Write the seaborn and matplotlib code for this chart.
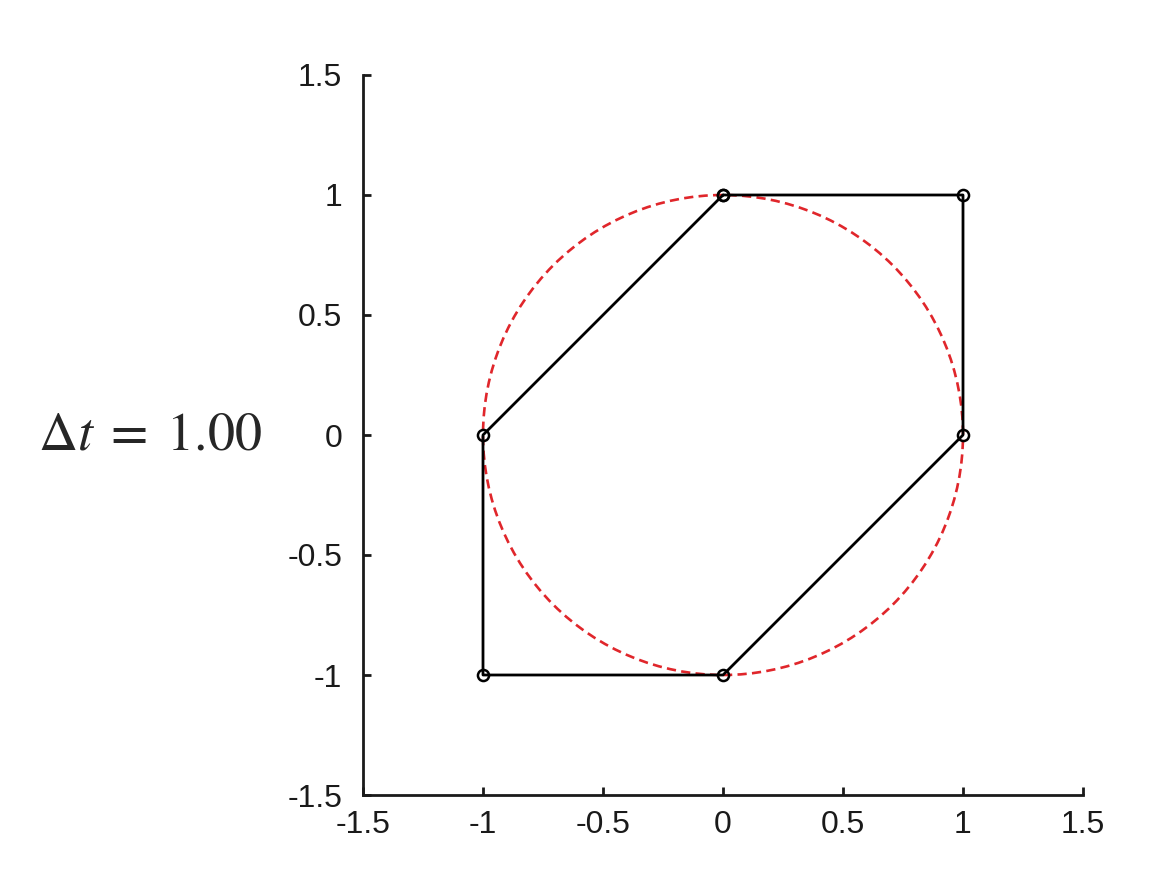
import numpy as np
import pandas as pd
import matplotlib
matplotlib.use('Agg')
import matplotlib.pyplot as plt
import seaborn as sns

# polygon vertices (closed path)
px = [0, 1, 1, 0, -1, -1, 0]
py = [1, 1, 0, -1, -1, 0, 1]
radius = 1.0
ticks = [-1.5, -1, -0.5, 0, 0.5, 1, 1.5]
tick_labels = ['-1.5', '-1', '-0.5', '0', '0.5', '1', '1.5']
dt_label = r'$\Delta t\;=\;1.00$'

sns.set_theme(style='ticks')
plt.rcParams['font.family'] = ['Liberation Sans', 'DejaVu Sans']
plt.rcParams['mathtext.fontset'] = 'stix'

fig = plt.figure(figsize=(11.54, 8.8), dpi=100)
ax = fig.add_axes([363 / 1154, 85 / 880, 720 / 1154, 720 / 880])

df = pd.DataFrame({'x': px, 'y': py})

circ = plt.Circle((0, 0), radius, fill=False, color='#e0262b', lw=1.9,
                  ls=(0, (3.5, 2)), zorder=1)
ax.add_patch(circ)

sns.lineplot(data=df, x='x', y='y', sort=False, estimator=None, color='black',
             lw=2.0, marker='o', markersize=8, markerfacecolor='none',
             markeredgecolor='black', markeredgewidth=1.8, ax=ax, zorder=2)

ax.set_xlim(-1.5, 1.5)
ax.set_ylim(-1.5, 1.5)
ax.set_xticks(ticks)
ax.set_xticklabels(tick_labels)
ax.set_yticks(ticks)
ax.set_yticklabels(tick_labels)
ax.set_xlabel('')
ax.set_ylabel('')
sns.despine(ax=ax)
for s in ['left', 'bottom']:
    ax.spines[s].set_linewidth(2.0)
    ax.spines[s].set_color('#1a1a1a')
ax.tick_params(axis='both', direction='in', length=6, width=2.0,
               labelsize=23, colors='#1a1a1a')
ax.tick_params(axis='x', pad=11)
ax.tick_params(axis='y', pad=15)

fig.text(38 / 1154, 1 - 435 / 880, dt_label, fontsize=39, ha='left', va='center')

fig.savefig('out.png', dpi=100)
